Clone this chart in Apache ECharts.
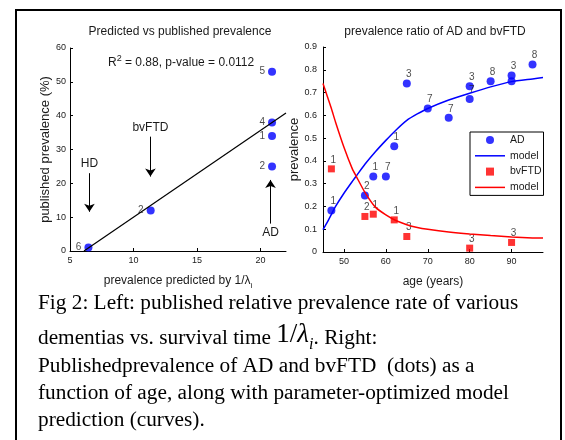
<!DOCTYPE html>
<html><head><meta charset="utf-8">
<script src="https://cdn.jsdelivr.net/npm/echarts@6/dist/echarts.min.js"></script>
<style>html,body{margin:0;padding:0;background:#fff}#c{width:565px;height:440px}</style>
</head><body><div id="c"></div>
<script>
// ---- Left panel: predicted vs published prevalence ----
const leftXTicks = [5, 10, 15, 20];
const leftPredicted = [6.45, 11.35, 20.9, 20.9, 20.9, 20.9];
const leftPublished = [1, 12, 53, 38, 34, 25];
const leftLabels = ['6', '2', '5', '4', '1', '2'];
const fitX = [6.1, 22];
const fitY = [0, 40.8];
const annotNames = ['HD', 'bvFTD', 'AD'];
const annotX = [6.53, 11.33, 20.78];
const annotFrom = [23.0, 33.8, 8.1];
const annotTo = [11.6, 22.0, 21.0];

// ---- Right panel: prevalence ratio vs age ----
const ageTicks = [50, 60, 70, 80, 90];
const adAge = [47, 55, 57, 60, 62, 65, 70, 75, 80, 80, 85, 90, 90, 95];
const adPrev = [0.182, 0.248, 0.331, 0.331, 0.464, 0.74, 0.63, 0.589, 0.728, 0.672, 0.75, 0.775, 0.75, 0.823];
const adLabels = ['1', '2', '1', '7', '1', '3', '7', '7', '3', '7', '8', '3', '', '8'];
const ftdAge = [47, 55, 57, 62, 65, 80, 90];
const ftdPrev = [0.365, 0.156, 0.166, 0.141, 0.068, 0.017, 0.042];
const ftdLabels = ['1', '2', '1', '1', '3', '3', '3'];
const modelAge = [45, 46, 47, 48, 50, 52, 53, 55, 57.5, 60, 62.5, 65, 67.5, 70, 75, 80, 85, 90, 95, 97.5];
const adModel = [0.098, 0.13, 0.165, 0.2, 0.258, 0.31, 0.335, 0.385, 0.44, 0.49, 0.537, 0.578, 0.606, 0.63, 0.667, 0.697, 0.725, 0.748, 0.76, 0.766];
const ftdModel = [0.74, 0.685, 0.63, 0.57, 0.46, 0.365, 0.33, 0.262, 0.197, 0.163, 0.137, 0.12, 0.108, 0.1, 0.088, 0.079, 0.072, 0.066, 0.062, 0.061];

const SANS = '"Liberation Sans", Arial, sans-serif';
const SERIF = '"Liberation Serif", "Times New Roman", serif';
const TXT = '#1a1a1a';
const CAP = 21.3;
const LINE_ICON = 'path://M0,0H32V1.6H0Z';
const SQUARE_ICON = 'path://M0,0H10V10H0Z';

const zip = (a, b) => a.map((v, i) => [v, b[i]]);

const axisCommon = {
  axisLine: { lineStyle: { color: '#000', width: 1 } },
  axisTick: { inside: true, length: 3, lineStyle: { color: '#000' } },
  axisLabel: { fontFamily: SANS, fontSize: 9, color: TXT },
  splitLine: { show: false },
  nameTextStyle: { fontFamily: SANS, fontSize: 12, color: TXT }
};

const chart = echarts.init(document.getElementById('c'), null, { renderer: 'canvas' });
chart.setOption({
  animation: false,
  backgroundColor: '#fff',
  grid: [
    { left: 70, top: 48, width: 216, height: 203 },
    { left: 323, top: 47, width: 220, height: 205 }
  ],
  xAxis: [
    Object.assign({}, axisCommon, {
      gridIndex: 0, type: 'value', min: 5, max: 22, interval: 5,
      axisLabel: Object.assign({}, axisCommon.axisLabel, { customValues: leftXTicks, margin: 5 }),
      axisTick: Object.assign({}, axisCommon.axisTick, { customValues: leftXTicks }),
      name: '{a|prevalence predicted by 1/λ}{s|i}', nameLocation: 'middle', nameGap: 24,
      nameTextStyle: { fontFamily: SANS, fontSize: 12, color: TXT,
        rich: { a: { fontFamily: SANS, fontSize: 12, color: TXT, verticalAlign: 'bottom', padding: [0, 0, 3, 0] },
                s: { fontFamily: SANS, fontSize: 8, color: TXT, verticalAlign: 'bottom' } } }
    }),
    Object.assign({}, axisCommon, {
      gridIndex: 1, type: 'value', min: 45, max: 97.5,
      axisLabel: Object.assign({}, axisCommon.axisLabel, { customValues: ageTicks, margin: 5 }),
      axisTick: Object.assign({}, axisCommon.axisTick, { customValues: ageTicks }),
      name: 'age (years)', nameLocation: 'middle', nameGap: 24
    })
  ],
  yAxis: [
    Object.assign({}, axisCommon, {
      gridIndex: 0, type: 'value', min: 0, max: 60, interval: 10,
      axisLabel: Object.assign({}, axisCommon.axisLabel, { margin: 4 }),
      name: 'published prevalence (%)', nameLocation: 'middle', nameGap: 17,
      nameTextStyle: { fontFamily: SANS, fontSize: 13, color: TXT }
    }),
    Object.assign({}, axisCommon, {
      gridIndex: 1, type: 'value', min: 0, max: 0.9, interval: 0.1,
      axisLabel: Object.assign({}, axisCommon.axisLabel, { margin: 6 }),
      name: 'prevalence', nameLocation: 'middle', nameGap: 20,
      nameTextStyle: { fontFamily: SANS, fontSize: 13, color: TXT }
    })
  ],
  legend: {
    data: [
      { name: 'AD', icon: 'circle' },
      { name: 'model', icon: LINE_ICON },
      { name: 'bvFTD', icon: SQUARE_ICON },
      { name: 'model ', icon: LINE_ICON }
    ],
    formatter: n => n.trim(),
    orient: 'vertical', left: 470, top: 132,
    itemWidth: 30, itemHeight: 8, itemGap: 3.8,
    symbolKeepAspect: true,
    padding: [2, 2, 2, 5],
    borderColor: '#000', borderWidth: 1, backgroundColor: '#fff',
    textStyle: { fontFamily: SANS, fontSize: 10.5, color: TXT, lineHeight: 12 },
    selectedMode: false
  },
  series: [
    {
      type: 'scatter', xAxisIndex: 0, yAxisIndex: 0, symbol: 'circle', symbolSize: 8,
      itemStyle: { color: '#0000ff' },
      data: zip(leftPredicted, leftPublished),
      label: { show: true, position: 'left', distance: 3, formatter: p => leftLabels[p.dataIndex],
        fontFamily: SANS, fontSize: 10, color: TXT }
    },
    {
      type: 'line', xAxisIndex: 0, yAxisIndex: 0, symbol: 'none',
      lineStyle: { color: '#000', width: 1.2 },
      data: zip(fitX, fitY),
      markLine: {
        silent: true, symbol: ['none', 'arrow'], symbolSize: 8,
        lineStyle: { color: '#000', width: 1, type: 'solid' },
        label: { show: true, position: 'start', formatter: '{b}', fontFamily: SANS, fontSize: 12, color: TXT, distance: 3 },
        data: annotNames.map((n, i) => [{ name: n, coord: [annotX[i], annotFrom[i]] }, { coord: [annotX[i], annotTo[i]] }])
      }
    },
    {
      name: 'AD', type: 'scatter', xAxisIndex: 1, yAxisIndex: 1, symbol: 'circle', symbolSize: 8,
      itemStyle: { color: '#0000ff' },
      data: zip(adAge, adPrev),
      label: { show: true, position: 'inside', offset: [2, -9], formatter: p => adLabels[p.dataIndex],
        fontFamily: SANS, fontSize: 10, color: TXT }
    },
    {
      name: 'model', type: 'line', xAxisIndex: 1, yAxisIndex: 1, symbol: 'none', smooth: 0.2,
      lineStyle: { color: '#0000ff', width: 1.5 }, itemStyle: { color: '#0000ff' },
      data: zip(modelAge, adModel)
    },
    {
      name: 'bvFTD', type: 'scatter', xAxisIndex: 1, yAxisIndex: 1, symbol: 'rect', symbolSize: 7,
      itemStyle: { color: '#ff0000' },
      data: zip(ftdAge, ftdPrev),
      label: { show: true, position: 'inside', offset: [2, -9], formatter: p => ftdLabels[p.dataIndex],
        fontFamily: SANS, fontSize: 10, color: TXT }
    },
    {
      name: 'model ', type: 'line', xAxisIndex: 1, yAxisIndex: 1, symbol: 'none', smooth: 0.2,
      lineStyle: { color: '#ff0000', width: 1.5 }, itemStyle: { color: '#ff0000' },
      data: zip(modelAge, ftdModel)
    }
  ],
  graphic: [
    { type: 'rect', shape: { x: 16, y: 10, width: 545, height: 440 }, style: { fill: 'none', stroke: '#000', lineWidth: 2 }, z: 100 },
    { type: 'text', x: 180, y: 32, style: { text: 'Predicted vs published prevalence', fontFamily: SANS, fontSize: 12, fill: TXT, align: 'center', verticalAlign: 'middle' } },
    { type: 'text', x: 435, y: 32, style: { text: 'prevalence ratio of AD and bvFTD', fontFamily: SANS, fontSize: 12, fill: TXT, align: 'center', verticalAlign: 'middle' } },
    { type: 'text', x: 108, y: 69, style: {
        text: '{a|R}{p|2}{a| = 0.88, p-value = 0.0112}', align: 'left', verticalAlign: 'bottom',
        rich: { a: { fontFamily: SANS, fontSize: 12, fill: TXT, verticalAlign: 'bottom' },
                p: { fontFamily: SANS, fontSize: 9, fill: TXT, verticalAlign: 'bottom', padding: [0, 0, 5.5, 0] } } } },
    { type: 'text', x: 38, y: 302.9, style: { text: 'Fig 2: Left: published relative prevalence rate of various', fontFamily: SERIF, fontSize: CAP, fill: '#000', align: 'left', verticalAlign: 'middle' } },
    { type: 'text', x: 38, y: 321.4, style: {
        text: '{a|dementias vs. survival time }{m|1/}{l|λ}{s|i}{a|. Right:}', align: 'left', verticalAlign: 'top',
        rich: { a: { fontFamily: SERIF, fontSize: CAP, fill: '#000', verticalAlign: 'bottom', padding: [0, 0, 4, 0] },
                m: { fontFamily: SERIF, fontSize: 27, fill: '#000', verticalAlign: 'bottom', padding: [0, 0, 4, 0] },
                l: { fontFamily: SERIF, fontSize: 27, fontStyle: 'italic', fill: '#000', verticalAlign: 'bottom', padding: [0, 0, 4, 0] },
                s: { fontFamily: SERIF, fontSize: 16, fontStyle: 'italic', fill: '#000', verticalAlign: 'bottom' } } } },
    { type: 'text', x: 38, y: 365.9, style: { text: 'Publishedprevalence of AD and bvFTD  (dots) as a', fontFamily: SERIF, fontSize: CAP, fill: '#000', align: 'left', verticalAlign: 'middle' } },
    { type: 'text', x: 38, y: 392.9, style: { text: 'function of age, along with parameter-optimized model', fontFamily: SERIF, fontSize: CAP, fill: '#000', align: 'left', verticalAlign: 'middle' } },
    { type: 'text', x: 38, y: 419.9, style: { text: 'prediction (curves).', fontFamily: SERIF, fontSize: CAP, fill: '#000', align: 'left', verticalAlign: 'middle' } }
  ]
});
</script></body></html>
